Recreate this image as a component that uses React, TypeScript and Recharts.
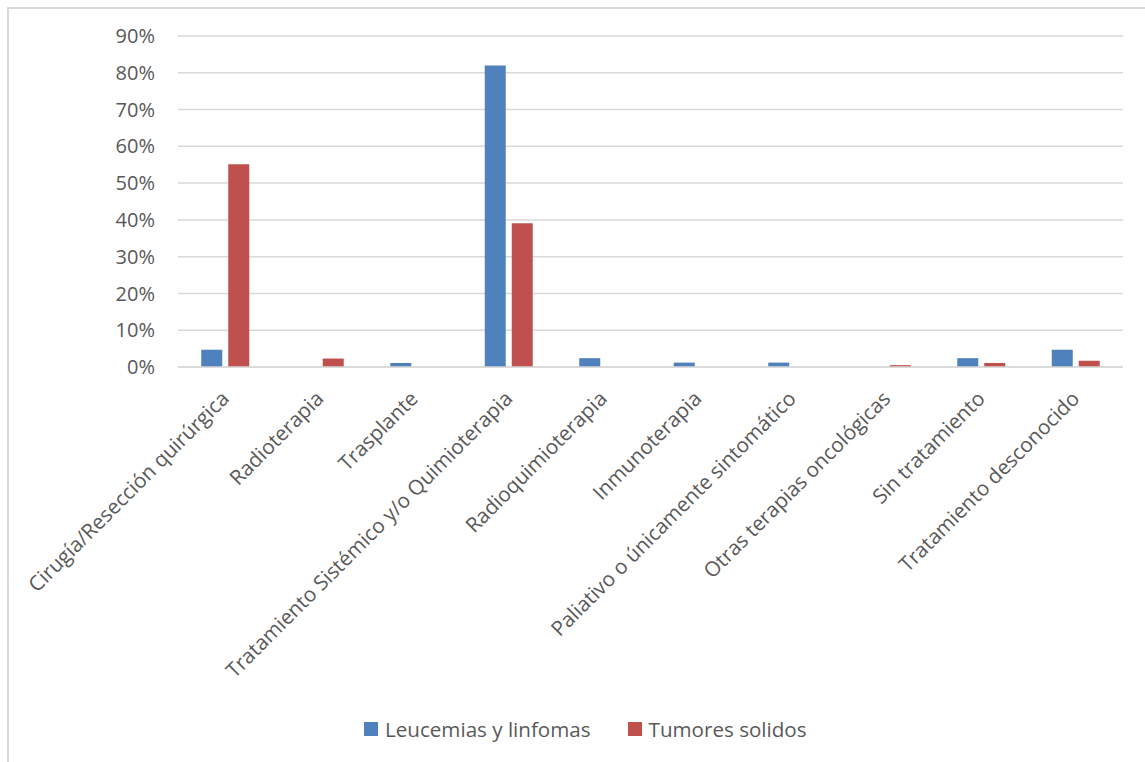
import React from "react";
import { Bar, BarChart, CartesianGrid, Legend, XAxis, YAxis } from "recharts";

const categories = [
  "Cirugía/Resección quirúrgica",
  "Radioterapia",
  "Trasplante",
  "Tratamiento Sistémico y/o Quimioterapia",
  "Radioquimioterapia",
  "Inmunoterapia",
  "Paliativo o únicamente sintomático",
  "Otras terapias oncológicas",
  "Sin tratamiento",
  "Tratamiento desconocido",
];

// percentages
const leucemias = [4.7, 0, 1.1, 82, 2.4, 1.2, 1.2, 0, 2.4, 4.7];
const tumores = [55.1, 2.3, 0, 39.1, 0, 0, 0, 0.5, 1.1, 1.7];

const yTicks = [0, 10, 20, 30, 40, 50, 60, 70, 80, 90];

const series = [
  { key: "leucemias", name: "Leucemias y linfomas", color: "#4f81bd" },
  { key: "tumores", name: "Tumores solidos", color: "#c0504d" },
];

const data = categories.map((name, i) => ({
  name,
  leucemias: leucemias[i],
  tumores: tumores[i],
}));

const FONT = "'Open Sans', sans-serif";
const INK = "#595959";
const LINE = "#d9d9d9";

function CategoryTick({ x, y, payload }: any) {
  return (
    <g transform={`translate(${x + 5},${y + 33}) rotate(-45)`}>
      <text textAnchor="end" fill={INK} fontSize={20.6} fontFamily={FONT}>
        {payload.value}
      </text>
    </g>
  );
}

function LegendBox() {
  return (
    <div
      style={{
        height: 30,
        display: "flex",
        alignItems: "center",
        paddingLeft: 364,
        fontFamily: FONT,
        fontSize: 20.6,
        color: INK,
      }}
    >
      {series.map((s, i) => (
        <div key={s.key} style={{ display: "flex", alignItems: "center", marginLeft: i ? 37 : 0 }}>
          <span style={{ width: 14, height: 14, background: s.color, marginRight: 7, display: "inline-block" }} />
          <span>{s.name}</span>
        </div>
      ))}
    </div>
  );
}

export default function App() {
  return (
    <div style={{ position: "absolute", left: 0, top: 0, width: 1145, height: 762, background: "#fff" }}>
      <div
        style={{
          position: "absolute",
          left: 7,
          top: 7,
          right: -10,
          bottom: -10,
          borderLeft: `2px solid ${LINE}`,
          borderTop: `2px solid ${LINE}`,
        }}
      />
      <BarChart
        width={1145}
        height={762}
        data={data}
        margin={{ top: 36, right: 22, left: 100, bottom: 18 }}
        barCategoryGap="24.6%"
        barGap={6}
      >
        <CartesianGrid vertical={false} stroke={LINE} strokeWidth={1.5} />
        <XAxis
          dataKey="name"
          interval={0}
          height={347}
          axisLine={{ stroke: LINE, strokeWidth: 1.5 }}
          tickLine={false}
          tickSize={0}
          tickMargin={0}
          tick={<CategoryTick />}
        />
        <YAxis
          domain={[0, 90]}
          ticks={yTicks}
          width={78}
          axisLine={false}
          tickLine={false}
          tickSize={0}
          tickMargin={23}
          tickFormatter={(v) => `${v}%`}
          tick={{ fill: INK, fontSize: 20, fontFamily: FONT }}
        />
        <Legend
          verticalAlign="bottom"
          content={<LegendBox />}
          wrapperStyle={{ left: 0, width: 1145, height: 30 }}
        />
        {series.map((s) => (
          <Bar key={s.key} dataKey={s.key} name={s.name} fill={s.color} isAnimationActive={false} />
        ))}
      </BarChart>
    </div>
  );
}
